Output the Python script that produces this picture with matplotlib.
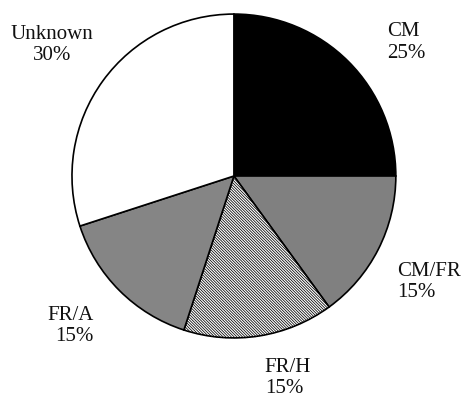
import matplotlib
matplotlib.use("Agg")
from matplotlib import pyplot as plt

labels = ['CM', 'CM/FR', 'FR/H', 'FR/A', 'Unknown']
shares = [25, 15, 15, 15, 30]

colors = ['#000000', '#808080', '#ffffff', '#858585', '#ffffff']
hatches = [None, None, '\\' * 12, None, None]

plt.rcParams['font.family'] = ['Liberation Serif', 'DejaVu Serif']
plt.rcParams['hatch.linewidth'] = 0.55
plt.rcParams['hatch.color'] = '#3a3a3a'

fig = plt.figure(figsize=(4.62, 4.0), dpi=100)
ax = fig.add_axes([0.1558, 0.155, 0.701, 0.81])

wedges, _ = ax.pie(shares, colors=colors, startangle=90, counterclock=False,
                   radius=1.0,
                   wedgeprops=dict(edgecolor='black', linewidth=1.2))
for w, h in zip(wedges, hatches):
    if h:
        w.set_hatch(h)

ax.set_xlim(-1, 1)
ax.set_ylim(-1, 1)
ax.set_aspect('equal')
ax.axis('off')

# label positions (data units, pie radius = 1)
pos = {'CM': (0.944, 0.824, 'left'),
       'CM/FR': (1.006, -0.654, 'left'),
       'FR/H': (0.191, -1.247, 'left'),
       'FR/A': (-0.864, -0.926, 'right'),
       'Unknown': (-1.123, 0.809, 'center')}

for lab, s in zip(labels, shares):
    x, y, ha = pos[lab]
    ax.text(x, y, f'{lab}\n{s}%', ha=ha, va='center', multialignment=ha,
            fontsize=15, color='#111111', clip_on=False)

fig.savefig('out.png', dpi=100, facecolor='white')
